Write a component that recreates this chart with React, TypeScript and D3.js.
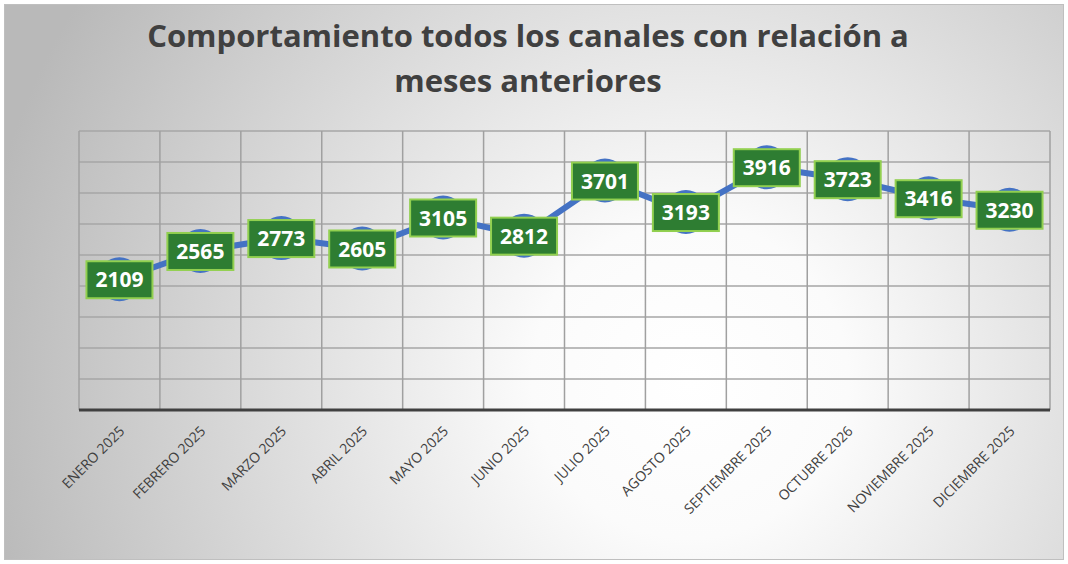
import { useEffect, useRef } from "react";
import * as d3 from "d3";

const months = [
  "ENERO 2025", "FEBRERO 2025", "MARZO 2025", "ABRIL 2025", "MAYO 2025", "JUNIO 2025",
  "JULIO 2025", "AGOSTO 2025", "SEPTIEMBRE 2025", "OCTUBRE 2026", "NOVIEMBRE 2025", "DICIEMBRE 2025",
];
const values = [2109, 2565, 2773, 2605, 3105, 2812, 3701, 3193, 3916, 3723, 3416, 3230];
const yTicks = [0, 500, 1000, 1500, 2000, 2500, 3000, 3500, 4000, 4500];
const titleLines = ["Comportamiento todos los canales con relación a", "meses anteriores"];

export default function App() {
  const svgRef = useRef<SVGSVGElement>(null);

  useEffect(() => {
    const svg = d3.select(svgRef.current);
    svg.selectAll("*").remove();

    const width = 1068, height = 564;
    const margin = { top: 131, right: 18, bottom: 154, left: 79 };
    const innerW = width - margin.left - margin.right;
    const innerH = height - margin.top - margin.bottom;

    const defs = svg.append("defs");
    const grad = defs.append("radialGradient").attr("id", "bg")
      .attr("gradientUnits", "userSpaceOnUse")
      .attr("cx", 690).attr("cy", 380).attr("r", 720);
    grad.append("stop").attr("offset", "0%").attr("stop-color", "#ffffff");
    grad.append("stop").attr("offset", "22%").attr("stop-color", "#fbfbfb");
    grad.append("stop").attr("offset", "100%").attr("stop-color", "#b9b9b9");

    svg.append("rect").attr("x", 0).attr("y", 0).attr("width", width).attr("height", height).attr("fill", "#fff");
    svg.append("rect").attr("x", 4.5).attr("y", 4.5).attr("width", 1059).attr("height", 555)
      .attr("fill", "url(#bg)").attr("stroke", "#bfbfbf").attr("stroke-width", 1);

    svg.append("g").selectAll("text").data(titleLines).enter().append("text")
      .attr("x", 528).attr("y", (d, i) => 47 + i * 45)
      .attr("text-anchor", "middle")
      .style("font-family", "'Open Sans', sans-serif").style("font-weight", "bold")
      .style("font-size", "31px").style("fill", "#404040")
      .text(d => d);

    const g = svg.append("g").attr("transform", `translate(${margin.left},${margin.top})`);

    const x = d3.scaleBand().domain(months).range([0, innerW]);
    const y = d3.scaleLinear().domain([0, 4500]).range([innerH, 0]);

    // horizontal gridlines
    g.append("g").selectAll("line").data(yTicks.slice(1)).enter().append("line")
      .attr("x1", 0).attr("x2", innerW)
      .attr("y1", d => y(d)).attr("y2", d => y(d))
      .attr("stroke", "#a6a6a6").attr("stroke-width", 1.5);

    // vertical gridlines at category boundaries
    const bounds = months.map(m => x(m) as number).concat([innerW]);
    g.append("g").selectAll("line").data(bounds).enter().append("line")
      .attr("x1", d => d).attr("x2", d => d)
      .attr("y1", 0).attr("y2", innerH)
      .attr("stroke", "#a0a0a0").attr("stroke-width", 1.5);

    // axis line
    g.append("line").attr("x1", 0).attr("x2", innerW).attr("y1", innerH).attr("y2", innerH)
      .attr("stroke", "#404040").attr("stroke-width", 3);

    // category labels
    g.append("g").selectAll("text").data(months).enter().append("text")
      .attr("transform", d => `translate(${(x(d) as number) + x.bandwidth() / 2 + 6},${innerH + 22}) rotate(-45)`)
      .attr("text-anchor", "end")
      .style("font-family", "'Open Sans', sans-serif").style("font-size", "14px").style("fill", "#404040")
      .text(d => d);

    const cx = (i: number) => (x(months[i]) as number) + x.bandwidth() / 2;

    const line = d3.line<number>().x((d, i) => cx(i)).y(d => y(d));
    g.append("path").datum(values)
      .attr("fill", "none").attr("stroke", "#4472c4").attr("stroke-width", 6)
      .attr("stroke-linejoin", "round").attr("d", line);

    g.append("g").selectAll("circle").data(values).enter().append("circle")
      .attr("cx", (d, i) => cx(i)).attr("cy", d => y(d)).attr("r", 22)
      .attr("fill", "#4472c4");

    const bw = 66, bh = 37;
    const labels = g.append("g").selectAll("g").data(values).enter().append("g")
      .attr("transform", (d, i) => `translate(${cx(i)},${y(d) + 0.5})`);
    labels.append("rect")
      .attr("x", -bw / 2).attr("y", -bh / 2).attr("width", bw).attr("height", bh)
      .attr("fill", "#2e7d32").attr("stroke", "#92d050").attr("stroke-width", 2);
    labels.append("text")
      .attr("text-anchor", "middle").attr("dy", "0.36em")
      .style("font-family", "'Open Sans', sans-serif").style("font-weight", "bold")
      .style("font-size", "21px").style("fill", "#ffffff")
      .text(d => d);
  }, []);

  return (
    <svg ref={svgRef} width={1068} height={564}
      style={{ position: "absolute", left: 0, top: 0, display: "block" }} />
  );
}
